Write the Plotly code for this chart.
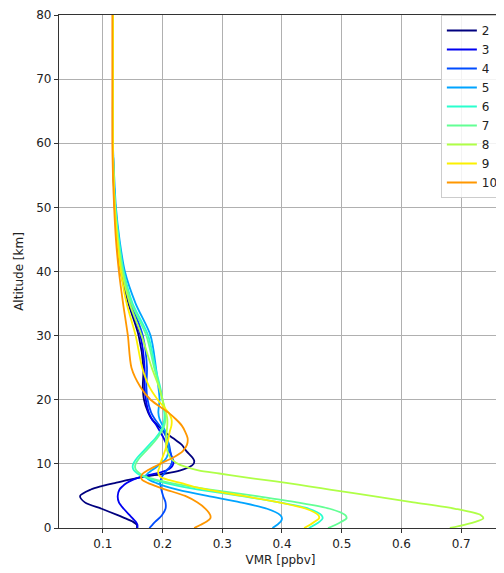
import plotly.graph_objects as go

ALT = [0, 0.5, 1, 1.5, 2, 3, 4, 5, 6, 6.5, 7, 7.5, 8, 8.5, 9, 9.5, 10, 10.5, 11, 12,
       13, 14, 15, 16, 17, 18, 20, 22, 25, 30, 35, 40, 45, 50, 55, 60, 70, 80]

LABELS = ["2", "3", "4", "5", "6", "7", "8", "9", "10"]
COLORS = ["#00007f", "#0000f1", "#004cff", "#00a4ff", "#29ffce", "#63ff94",
          "#afff47", "#fcf000", "#ff9700"]

V2 = [0.157, 0.157, 0.150, 0.138, 0.125, 0.098, 0.070, 0.062, 0.080, 0.097, 0.120, 0.143,
      0.170, 0.205, 0.230, 0.245, 0.252, 0.253, 0.250, 0.240, 0.232, 0.218, 0.203, 0.192,
      0.182, 0.176, 0.169, 0.167, 0.168, 0.160, 0.143, 0.130, 0.124, 0.120, 0.118, 0.117,
      0.117, 0.117]
V3 = [0.158, 0.158, 0.155, 0.150, 0.145, 0.135, 0.127, 0.125, 0.128, 0.133, 0.140, 0.150,
      0.165, 0.190, 0.207, 0.215, 0.218, 0.218, 0.216, 0.212, 0.207, 0.202, 0.196, 0.190,
      0.182, 0.177, 0.172, 0.170, 0.170, 0.163, 0.145, 0.132, 0.125, 0.121, 0.118, 0.117,
      0.117, 0.117]
V4 = [0.178, 0.183, 0.188, 0.194, 0.199, 0.205, 0.205, 0.201, 0.198, 0.197, 0.196, 0.197,
      0.199, 0.203, 0.207, 0.212, 0.215, 0.216, 0.215, 0.213, 0.211, 0.207, 0.202, 0.195,
      0.187, 0.181, 0.175, 0.173, 0.174, 0.167, 0.148, 0.134, 0.126, 0.121, 0.118, 0.117,
      0.117, 0.117]
V5 = [0.384, 0.392, 0.398, 0.400, 0.397, 0.375, 0.330, 0.275, 0.225, 0.205, 0.190, 0.178,
      0.172, 0.175, 0.182, 0.190, 0.197, 0.203, 0.207, 0.210, 0.210, 0.208, 0.205, 0.200,
      0.195, 0.193, 0.195, 0.193, 0.189, 0.180, 0.155, 0.137, 0.128, 0.122, 0.119, 0.117,
      0.117, 0.117]
V6 = [0.445, 0.455, 0.463, 0.468, 0.466, 0.445, 0.395, 0.330, 0.260, 0.230, 0.205, 0.185,
      0.168, 0.158, 0.152, 0.150, 0.151, 0.154, 0.158, 0.168, 0.178, 0.188, 0.196, 0.201,
      0.203, 0.203, 0.200, 0.196, 0.188, 0.176, 0.150, 0.135, 0.127, 0.121, 0.118, 0.117,
      0.117, 0.117]
V7 = [0.477, 0.490, 0.500, 0.508, 0.506, 0.480, 0.425, 0.355, 0.280, 0.245, 0.215, 0.190,
      0.172, 0.162, 0.156, 0.154, 0.155, 0.158, 0.162, 0.172, 0.182, 0.191, 0.198, 0.203,
      0.205, 0.204, 0.200, 0.195, 0.186, 0.173, 0.148, 0.134, 0.126, 0.121, 0.118, 0.117,
      0.117, 0.117]
V8 = [0.681, 0.705, 0.725, 0.737, 0.733, 0.690, 0.620, 0.550, 0.480, 0.445, 0.410, 0.370,
      0.330, 0.295, 0.260, 0.240, 0.226, 0.218, 0.213, 0.208, 0.206, 0.206, 0.207, 0.208,
      0.208, 0.206, 0.200, 0.194, 0.182, 0.165, 0.145, 0.132, 0.125, 0.120, 0.118, 0.117,
      0.117, 0.117]
V9 = [0.437, 0.447, 0.455, 0.462, 0.461, 0.440, 0.395, 0.335, 0.275, 0.250, 0.232, 0.210,
      0.196, 0.193, 0.193, 0.195, 0.196, 0.198, 0.200, 0.204, 0.207, 0.210, 0.212, 0.215,
      0.215, 0.210, 0.192, 0.178, 0.166, 0.155, 0.140, 0.130, 0.124, 0.120, 0.118, 0.117,
      0.117, 0.117]
V10 = [0.253, 0.264, 0.274, 0.280, 0.280, 0.272, 0.258, 0.238, 0.205, 0.190, 0.176, 0.166,
       0.164, 0.167, 0.175, 0.185, 0.196, 0.207, 0.218, 0.234, 0.241, 0.242, 0.238, 0.232,
       0.222, 0.210, 0.180, 0.163, 0.148, 0.142, 0.134, 0.127, 0.122, 0.119, 0.117, 0.116,
       0.116, 0.116]

SERIES = [V2, V3, V4, V5, V6, V7, V8, V9, V10]

X_TICKS = [0.1, 0.2, 0.3, 0.4, 0.5, 0.6, 0.7]
Y_TICKS = [0, 10, 20, 30, 40, 50, 60, 70, 80]

fig = go.Figure()
for lab, col, vals in zip(LABELS, COLORS, SERIES):
    fig.add_trace(go.Scatter(
        x=vals, y=ALT, mode="lines", name=lab,
        line=dict(color=col, width=1.8, shape="spline", smoothing=0.8),
    ))

axis_font = dict(family="DejaVu Sans", size=12, color="#222")
fig.update_layout(
    width=496, height=565,
    margin=dict(l=51, r=0, t=3, b=45),
    paper_bgcolor="white", plot_bgcolor="white",
    font=dict(family="DejaVu Sans", size=12, color="#222"),
    showlegend=True,
    legend=dict(
        x=0.862, y=1.0, xanchor="left", yanchor="top",
        bgcolor="rgba(255,255,255,0.85)", bordercolor="#cccccc", borderwidth=1,
        font=dict(family="DejaVu Sans", size=12, color="#222"),
        tracegroupgap=0, itemwidth=30,
    ),
    xaxis=dict(
        range=[0.0267, 0.7683], tickvals=X_TICKS, ticktext=[str(v) for v in X_TICKS],
        showgrid=True, gridcolor="#b0b0b0", gridwidth=1,
        showline=True, linecolor="#333", linewidth=1.2, mirror=True,
        ticks="outside", ticklen=4, tickcolor="#333", tickfont=axis_font,
        title=dict(text="VMR [ppbv]", font=axis_font, standoff=6),
        zeroline=False,
    ),
    yaxis=dict(
        range=[0, 80], tickvals=Y_TICKS,
        showgrid=True, gridcolor="#b0b0b0", gridwidth=1,
        showline=True, linecolor="#333", linewidth=1.2, mirror=False,
        ticks="outside", ticklen=4, tickcolor="#333", tickfont=axis_font,
        ticklabeloverflow="allow",
        title=dict(text="Altitude [km]", font=axis_font, standoff=10),
        zeroline=False,
    ),
)

fig.write_html("out.html")
